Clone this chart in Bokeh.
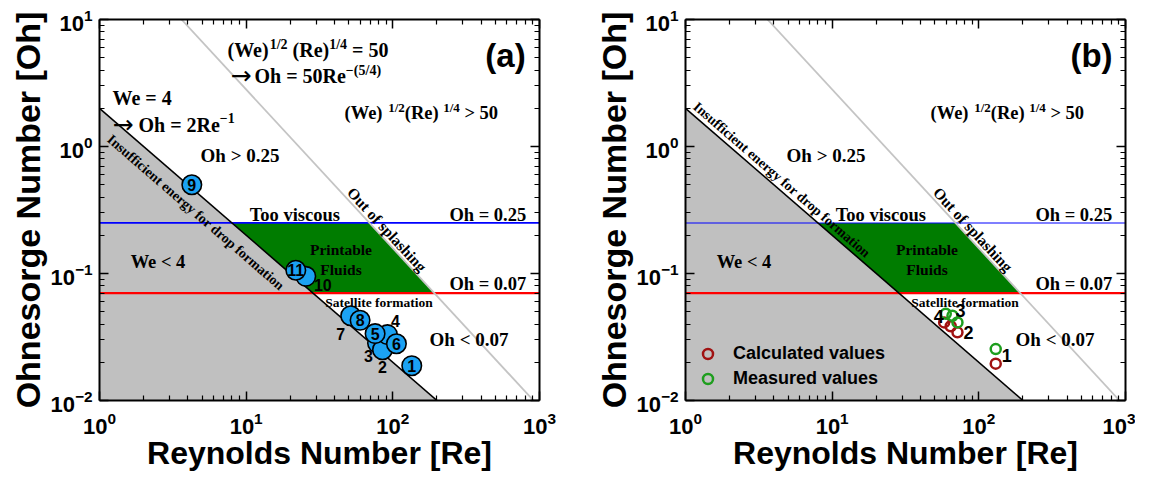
import math
from bokeh.plotting import figure
from bokeh.layouts import row
from bokeh.models import LogAxis, FixedTicker, ColumnDataSource, CustomJSTickFormatter
from bokeh.core.properties import value
from bokeh.embed import file_html
from bokeh.resources import INLINE

# ---------------- data ----------------
re_limits = [1, 1000]
oh_limits = [0.01, 10]
re_major = [1, 10, 100, 1000]
oh_major = [0.01, 0.1, 1, 10]
mantissas = [2, 3, 4, 5, 6, 7, 8, 9]

# panel (a): fluids 1..11
fluid_ids = ["1", "2", "3", "4", "5", "6", "7", "8", "9", "10", "11"]
re_fluid = [134.6, 85.0, 78.6, 91.9, 75.7, 105.8, 51.6, 59.8, 4.26, 25.5, 21.8]
oh_fluid = [0.0188, 0.0251, 0.0283, 0.0330, 0.0336, 0.0280, 0.0465, 0.0428, 0.50, 0.095, 0.106]

# panel (b): samples 1..4
sample_ids = ["1", "2", "3", "4"]
re_calc = [130.4, 71.5, 64.3, 58.0]
oh_calc = [0.0195, 0.0344, 0.0384, 0.0412]
re_meas = [130.4, 71.5, 66.1, 59.5]
oh_meas = [0.0254, 0.0412, 0.0465, 0.0482]

# regime boundaries
oh_viscous = 0.25
oh_satellite = 0.07
we_min = 4.0          # Oh = sqrt(We)/Re = 2/Re
splash_const = 50.0   # Oh = 50 Re^-5/4


def re_we(oh):
    return math.sqrt(we_min) / oh


def re_splash(oh):
    return (splash_const / oh) ** 0.8


# ---------------- style ----------------
SERIF = "Liberation Serif"
SANS = "Liberation Sans"
ARROW_FONT = "DejaVu Sans"
FW, FH = 440, 381
GRAY_FILL = "#c0c0c0"
GRAY_LINE = "#c4c4c4"
GREEN = "#007c00"
BLUE = "#0000ff"
RED = "#ff0000"
MARK_BLUE = "#1ba2f3"
CALC_RED = "#a01212"
MEAS_GREEN = "#1e9e1e"

TB = {'(': .333, ')': .333, 'W': 1.0, 'e': .444, 'R': .722, '1': .5, '/': .278,
      '2': .5, '4': .5, '5': .5, '0': .5, '=': .570, ' ': .25, 'O': .778,
      'h': .556, '>': .570, '<': .570, '\u2212': .570, '\u2192': .838}


def to_data(rx, ry):
    lx0 = math.log10(re_limits[0]); lx1 = math.log10(re_limits[1])
    ly0 = math.log10(oh_limits[1]); ly1 = math.log10(oh_limits[0])
    return 10 ** (lx0 + rx / FW * (lx1 - lx0)), 10 ** (ly0 + ry / FH * (ly1 - ly0))


def minor_of(major):
    return [m * major[i] for i in range(len(major) - 1) for m in mantissas]


def ctext(p, rx, ry, s, size, font=SERIF, angle=0.0, align="center", baseline="alphabetic",
          style="bold"):
    X, Y = to_data(rx, ry)
    p.text(x=[X], y=[Y], text=[s], text_font=value(font), text_font_size=f"{size}px",
           text_font_style=style, text_align=align, text_baseline=baseline,
           text_color="black", angle=angle)


def seg_text(p, rx, ry, segs):
    """segs: numbers = horizontal gap in px; tuples = (text, size, rise[, font, style])."""
    x = rx
    for sg in segs:
        if isinstance(sg, (int, float)):
            x += sg
            continue
        s, size, rise = sg[0], sg[1], sg[2]
        font = sg[3] if len(sg) > 3 else SERIF
        style = sg[4] if len(sg) > 4 else "bold"
        ctext(p, x, ry - rise, s, size, font=font, align="left", style=style)
        x += sum(TB.get(c, 0.5) for c in s) * size


def style_axis(ax, labels=True):
    ax.axis_line_width = 2
    ax.major_tick_in = 9
    ax.major_tick_out = 0
    ax.minor_tick_in = 5
    ax.minor_tick_out = 0
    ax.major_tick_line_width = 1.5
    ax.minor_tick_line_width = 1.2
    if labels:
        ax.major_label_text_font = SANS
        ax.major_label_text_font_style = "bold"
        ax.major_label_text_font_size = "22px"
        ax.major_label_text_color = "black"
        ax.axis_label_text_font = SANS
        ax.axis_label_text_font_style = "bold"
        ax.axis_label_text_color = "black"
    else:
        ax.formatter = CustomJSTickFormatter(code="return ''")
        ax.major_label_standoff = 0


def make_panel(tag, right_border):
    p = figure(width=99 + FW + right_border, height=479,
               x_axis_type="log", y_axis_type="log",
               x_range=tuple(re_limits), y_range=tuple(oh_limits),
               min_border_left=99, min_border_right=right_border,
               min_border_top=19, min_border_bottom=79,
               x_axis_label="Reynolds Number [Re]",
               y_axis_label="Ohnesorge Number [Oh]",
               output_backend="svg", toolbar_location=None)
    p.xgrid.visible = False
    p.ygrid.visible = False
    p.outline_line_color = None
    p.xaxis.ticker = FixedTicker(ticks=re_major, minor_ticks=minor_of(re_major))
    p.yaxis.ticker = FixedTicker(ticks=oh_major, minor_ticks=minor_of(oh_major))
    for ax in p.xaxis:
        style_axis(ax)
        ax.major_label_standoff = 11
        ax.axis_label_text_font_size = "32px"
        ax.axis_label_standoff = -2
    for ax in p.yaxis:
        style_axis(ax)
        ax.axis_label_text_font_size = "34px"
        ax.major_label_standoff = 7
        ax.axis_label_standoff = 0
    top = LogAxis(ticker=FixedTicker(ticks=re_major, minor_ticks=minor_of(re_major)))
    style_axis(top, labels=False)
    p.add_layout(top, "above")
    right = LogAxis(ticker=FixedTicker(ticks=oh_major, minor_ticks=minor_of(oh_major)))
    style_axis(right, labels=False)
    p.add_layout(right, "right")

    # regions
    re_bottom = re_we(oh_limits[0])
    p.patch([re_limits[0], re_limits[0], re_bottom],
            [oh_limits[0], re_we(re_limits[0]), oh_limits[0]],
            fill_color=GRAY_FILL, line_color=None)
    p.patch([re_we(oh_viscous), re_splash(oh_viscous), re_splash(oh_satellite), re_we(oh_satellite)],
            [oh_viscous, oh_viscous, oh_satellite, oh_satellite],
            fill_color=GREEN, line_color=None)
    p.line(re_limits, [oh_viscous, oh_viscous], line_color=BLUE,
           line_width=1.8 if tag == "(a)" else 1.1)
    p.line(re_limits, [oh_satellite, oh_satellite], line_color=RED, line_width=2.2)
    p.line([re_limits[0], re_bottom], [re_we(re_limits[0]), oh_limits[0]],
           line_color="black", line_width=1.6)
    p.line([re_splash(oh_limits[1]), re_splash(oh_limits[0])], [oh_limits[1], oh_limits[0]],
           line_color=GRAY_LINE, line_width=1.8)

    # texts
    seg_text(p, 245, 93.7, [("(We)", 18.5, 0), 4.6, ("1/2", 13, 6), ("(Re)", 18.5, 0), 4.6,
                            ("1/4", 13, 6), 4.6, ("> 50", 18.5, 0)])
    ctext(p, 140.5, 136.4, "Oh > 0.25", 19)
    ctext(p, 195.3, 195.3, "Too viscous", 18.5)
    ctext(p, 388.3, 195.3, "Oh = 0.25", 18.5)
    ctext(p, 241.5, 230.0, "Printable", 15.5)
    ctext(p, 241.5, 250.4, "Fluids", 15.5)
    ctext(p, 58.5, 242.4, "We < 4", 18.5)
    ctext(p, 388.3, 264.4, "Oh = 0.07", 18.5)
    ctext(p, 279.5, 283.3, "Satellite formation", 13.5)
    ctext(p, 369.5, 320.3, "Oh < 0.07", 19)
    ctext(p, 287.5, 210.0, "Out of splashing", 15.5, angle=-0.825, baseline="middle")
    ins_y = 193.0 if tag == "(a)" else 160.3
    ctext(p, 96.3, ins_y, "Insufficient energy for drop formation", 14, angle=-0.714,
          baseline="middle")
    ctext(p, 406, 36.3, tag, 33, font=SANS)
    return p


# ---------------- panel (a) ----------------
pa = make_panel("(a)", 47)
seg_text(pa, 128, 30.6, [("(We)", 20, 0), ("1/2", 14, 6), 5, ("(Re)", 20, 0),
                         ("1/4", 14, 6), 5, ("= 50", 20, 0)])
seg_text(pa, 131, 56.9, [("\u2192", 25, 1, ARROW_FONT, "normal"), 3,
                         ("Oh = 50Re", 20, 0), ("\u2212(5/4)", 14, 6)])
seg_text(pa, 13, 78.9, [("We = 4", 20, 0)])
seg_text(pa, 13, 105.9, [("\u2192", 25, 1, ARROW_FONT, "normal"), 5,
                         ("Oh = 2Re", 20, 0), ("\u22121", 14, 7)])

draw_order = [10, 7, 3, 2, 4, 1, 8, 5, 6, 9, 11]
outside = {"10": (17, 9), "7": (-10, 18), "4": (8, -14), "3": (-9, 13), "2": (0, 17)}
idx = [k - 1 for k in draw_order]
src_a = ColumnDataSource(dict(
    re=[re_fluid[i] for i in idx], oh=[oh_fluid[i] for i in idx],
    lab=[fluid_ids[i] for i in idx],
    dx=[outside.get(fluid_ids[i], (0, 0))[0] for i in idx],
    dy=[outside.get(fluid_ids[i], (0, 0))[1] for i in idx],
))
pa.scatter("re", "oh", source=src_a, marker="circle", size=19.5, fill_color=MARK_BLUE,
           line_color="black", line_width=1.6)
pa.text("re", "oh", text="lab", source=src_a, x_offset="dx", y_offset="dy",
        text_font=value(SANS), text_font_style="bold", text_font_size="16px",
        text_align="center", text_baseline="middle", text_color="black")

# ---------------- panel (b) ----------------
pb = make_panel("(b)", 10)
pb.scatter(re_calc, oh_calc, marker="circle", size=10, fill_color=None,
           line_color=CALC_RED, line_width=2.5, legend_label="Calculated values")
pb.scatter(re_meas, oh_meas, marker="circle", size=10, fill_color=None,
           line_color=MEAS_GREEN, line_width=2.5, legend_label="Measured values")
lab_off_b = [(11, 6), (11, 10), (8, -5), (-7, 3)]
src_b = ColumnDataSource(dict(re=re_meas, oh=oh_meas, lab=sample_ids,
                              dx=[o[0] for o in lab_off_b], dy=[o[1] for o in lab_off_b]))
pb.text("re", "oh", text="lab", source=src_b, x_offset="dx", y_offset="dy",
        text_font=value(SANS), text_font_style="bold", text_font_size="18px",
        text_align="center", text_baseline="middle", text_color="black")
lg = pb.legend[0]
lg.location = (10, 9)
lg.background_fill_alpha = 0
lg.border_line_alpha = 0
lg.padding = 0
lg.margin = 0
lg.spacing = 0
lg.glyph_width = 25
lg.glyph_height = 25
lg.label_standoff = 13
lg.label_text_font = SANS
lg.label_text_font_style = "bold"
lg.label_text_font_size = "18px"
lg.label_text_color = "black"

layout = row(pa, pb)
open("out.html", "w").write(file_html(layout, INLINE))
